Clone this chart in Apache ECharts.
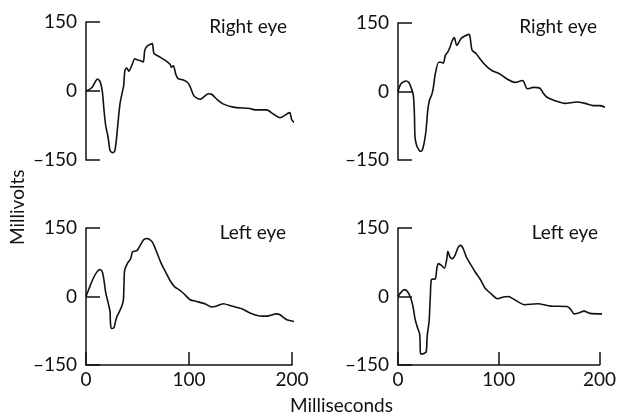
<!DOCTYPE html>
<html><head><meta charset="utf-8">
<script src="https://cdn.jsdelivr.net/npm/echarts@6/dist/echarts.min.js"></script>
<style>html,body{margin:0;padding:0;background:#fff}#c{width:619px;height:418px}</style>
</head><body><div id="c"></div>
<script>
const panelTitles = ['Right eye', 'Right eye', 'Left eye', 'Left eye'];
const yTicks = [-150, 0, 150];
const xTicks = [0, 100, 200];
const xTitle = 'Milliseconds';
const yTitle = 'Millivolts';

const rightEyeA = [[0,0],[3,3],[6,8],[9,20],[11,26],[13.6,21],[15.9,-2],[17.5,-42],[19.1,-75],[21.4,-100],[23.3,-129],[25.5,-134],[27.8,-131],[29.4,-108],[31,-71],[33,-28],[35.3,-2],[36.5,10],[37,25],[37.8,45],[39.5,50],[41.7,43],[45,59],[47.3,70],[49.8,68],[53.7,65],[55.7,63],[57,88],[59.5,98],[62,101],[64.4,103],[66,82],[70.9,75],[77.4,66],[81.6,58],[82.8,52],[84.8,55],[87.1,37],[89.3,27],[94.5,24],[98.4,19],[101,10],[104.9,-11],[110.7,-18],[118.8,-6],[122,-7],[128,-20],[133,-28],[143,-35],[159,-38],[164,-41],[175.4,-41],[181.9,-50],[188.4,-58],[197.7,-47],[199.7,-62],[204.5,-74]];
const rightEyeB = [[0,0],[2.9,17],[7.8,23],[10.4,20],[12.7,9],[15,-9],[16,-49],[16.6,-100],[18.2,-118],[20.8,-129],[22.4,-131],[24.7,-121],[27.3,-86],[29,-42],[30.6,-20],[33.2,-5],[34.5,9],[36.4,39],[39.7,64],[42,64],[44.2,62],[46.2,79],[48.5,86],[50.7,97],[52.7,110],[54.9,118],[57.3,101],[61.5,116],[64.7,121],[69,125],[70.2,121],[72.2,91],[76.1,83],[82.6,64],[87.5,53],[92.4,45],[98.8,39],[106,28],[114.1,20],[121.7,24],[123,20],[126.2,6],[132,9],[138.5,7],[141.8,-4],[145,-12],[153.2,-20],[163,-26],[174.3,-23],[182.4,-26],[190.5,-31],[197,-31],[203.6,-36]];
const leftEyeA = [[0,0],[2.9,17],[7.1,40],[11,55],[13.6,59],[15.9,53],[17.5,35],[19.1,9],[21.4,-13],[23.3,-33],[23.7,-56],[24.6,-70],[27.2,-68],[28.8,-53],[30.4,-42],[33.7,-27],[36.2,-9],[36.9,28],[37.5,57],[40.1,72],[43.4,83],[45,97],[46.6,99],[49.8,101],[53.1,114],[56.3,125],[59.5,127],[63.8,121],[66,112],[69.2,94],[73.1,72],[77.4,53],[81.6,35],[86.1,21],[90.3,15],[95.1,6],[101,-7],[107.5,-11],[115.5,-16],[122,-23],[125.2,-22],[133.3,-16],[141.4,-21],[151.2,-27],[159.2,-36],[167.3,-42],[175.4,-43],[185.1,-38],[188.3,-40],[194.9,-51],[205.2,-56]];
const leftEyeB = [[0,0],[2.9,9],[6.2,15],[9.4,11],[12.7,-4],[15,-23],[16.9,-49],[19.2,-67],[21.5,-82],[22,-108],[22.4,-126],[25.7,-125],[28,-121],[29,-86],[30.6,-60],[31.2,-42],[32.2,6],[33.2,37],[37.1,39],[38.7,64],[40.3,72],[43.6,67],[46.1,62],[48.5,83],[49.5,99],[51.7,86],[54,83],[56.6,90],[59.8,108],[62.4,112],[64.7,105],[68,86],[72.2,70],[76.8,53],[81,40],[83.2,31],[86.5,18],[92.4,6],[98.8,-5],[104.7,-1],[109.3,0],[115.8,-7],[125.6,-18],[138.5,-16],[151.5,-21],[167.8,-22],[171,-27],[174.9,-38],[179.2,-36],[184.7,-32],[190.5,-37],[203.6,-38]];

const seriesData = [rightEyeA, rightEyeB, leftEyeA, leftEyeB];
const FONT = 'Lato';
const grids = [
  {left: 86, top: 22, width: 206, height: 138},
  {left: 398, top: 23, width: 205, height: 137},
  {left: 86, top: 228, width: 206, height: 137},
  {left: 398, top: 228, width: 205, height: 137}
];
const titlePos = [
  {right: 327, top: 12},
  {right: 17, top: 12},
  {right: 328, top: 218},
  {right: 16, top: 218}
];
const fmtY = v => v < 0 ? '\u2013' + Math.abs(v) : String(v);

const option = {
  animation: false,
  backgroundColor: '#fff',
  grid: grids,
  title: panelTitles.map((t, i) => ({
    text: t, right: titlePos[i].right, top: titlePos[i].top,
    textStyle: {fontFamily: FONT, fontSize: 19, fontWeight: 'normal', color: '#111'}
  })),
  xAxis: grids.map((g, i) => ({
    gridIndex: i, type: 'value', min: xTicks[0], max: xTicks[xTicks.length - 1], interval: 100,
    show: i >= 2,
    axisLine: {show: true, onZero: false, lineStyle: {color: '#111', width: 1.5}},
    axisTick: {show: true, inside: true, length: 13, lineStyle: {color: '#111', width: 1.5}},
    axisLabel: {fontFamily: FONT, fontSize: 19, color: '#111', margin: 5},
    splitLine: {show: false}
  })),
  yAxis: grids.map((g, i) => ({
    gridIndex: i, type: 'value', min: yTicks[0], max: yTicks[yTicks.length - 1], interval: 150,
    axisLine: {show: true, onZero: false, lineStyle: {color: '#111', width: 1.5}},
    axisTick: {show: true, inside: true, length: 14, lineStyle: {color: '#111', width: 1.5}},
    axisLabel: {fontFamily: FONT, fontSize: 19, color: '#111', margin: 9, formatter: fmtY},
    splitLine: {show: false}
  })),
  series: seriesData.map((d, i) => ({
    type: 'line', xAxisIndex: i, yAxisIndex: i, data: d,
    showSymbol: false, smooth: 0.25, clip: false,
    lineStyle: {color: '#111', width: 1.6}
  })),
  graphic: [
    {type: 'text', left: 290, top: 396, style: {text: xTitle, font: '19px ' + FONT, fill: '#111'}},
    {type: 'text', x: 8, y: 245, rotation: Math.PI / 2, style: {text: yTitle, font: '19px ' + FONT, fill: '#111'}}
  ]
};
echarts.init(document.getElementById('c'), null, {renderer: 'canvas'}).setOption(option);
</script></body></html>
